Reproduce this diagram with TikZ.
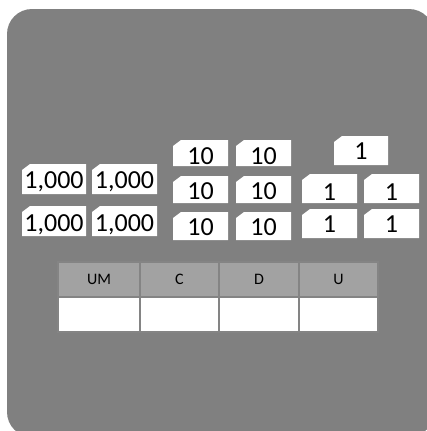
\documentclass[tikz,border=0pt]{standalone}
\usepackage{fontspec}
\setmainfont{Carlito}
\definecolor{bggray}{RGB}{128,128,128}
\definecolor{headgray}{RGB}{162,162,162}
\definecolor{linegray}{RGB}{132,132,132}
\tikzset{
  tilebox/.style={inner sep=0pt, outer sep=0pt, draw=none},
  tilelabel/.style={anchor=base, inner sep=0pt, font=\fontsize{26}{26}\selectfont},
  headcell/.style={draw=linegray, line width=1.2pt, fill=headgray, inner sep=0pt, outer sep=0pt, font=\fontsize{16}{16}\selectfont},
  bodycell/.style={draw=linegray, line width=1.2pt, fill=white, inner sep=0pt, outer sep=0pt}
}
\newcommand\mytile[7]{%
  \node[tilebox, minimum width={(#4-#2)*1pt}, minimum height={(#5-#3)*1pt}] (#1) at ({(#2+#4)/2},{(#3+#5)/2}) {};
  \fill[white] (#1.south west) -- ([yshift=-6pt]#1.north west) -- ([xshift=8pt]#1.north west) -- (#1.north east) -- (#1.south east) -- cycle;
  \node[tilelabel] (#1t) at ({(#2+#4)/2},#7) {#6};
}
\newcommand\mycell[7]{%
  \node[#6, minimum width={(#4-#2)*1pt}, minimum height={(#5-#3)*1pt}] (#1) at ({(#2+#4)/2},{(#3+#5)/2}) {#7};
}
\begin{document}
\begin{tikzpicture}[x=1pt,y=-1pt]
\useasboundingbox (0,0) rectangle (427,431);
\clip (0,0) rectangle (427,431);
\fill[bggray, rounded corners=25pt] (7,9) rectangle (434,437);
% thousands
\mytile{m1}{22}{164}{86}{194}{1,000}{188}
\mytile{m2}{92}{164}{157}{194}{1,000}{188}
\mytile{m3}{22}{206}{86}{236}{1,000}{231}
\mytile{m4}{92}{206}{157}{236}{1,000}{231}
% tens
\mytile{d1}{173}{140}{228}{166}{10}{164}
\mytile{d2}{236}{140}{291}{166}{10}{164}
\mytile{d3}{173}{176}{228}{203}{10}{199}
\mytile{d4}{236}{176}{291}{203}{10}{199}
\mytile{d5}{173}{212}{228}{240}{10}{235}
\mytile{d6}{236}{212}{291}{240}{10}{235}
% units
\mytile{u1}{334}{136}{388}{165}{1}{159}
\mytile{u2}{302}{174}{357}{203}{1}{200}
\mytile{u3}{364}{174}{419}{203}{1}{200}
\mytile{u4}{302}{209}{357}{238}{1}{232}
\mytile{u5}{364}{209}{419}{238}{1}{232}
% table
\mycell{hUM}{58}{262}{140}{297}{headcell}{UM}
\mycell{hC}{140}{262}{219}{297}{headcell}{C}
\mycell{hD}{219}{262}{299}{297}{headcell}{D}
\mycell{hU}{299}{262}{378}{297}{headcell}{U}
\mycell{bUM}{58}{297}{140}{332}{bodycell}{}
\mycell{bC}{140}{297}{219}{332}{bodycell}{}
\mycell{bD}{219}{297}{299}{332}{bodycell}{}
\mycell{bU}{299}{297}{378}{332}{bodycell}{}
\end{tikzpicture}
\end{document}
